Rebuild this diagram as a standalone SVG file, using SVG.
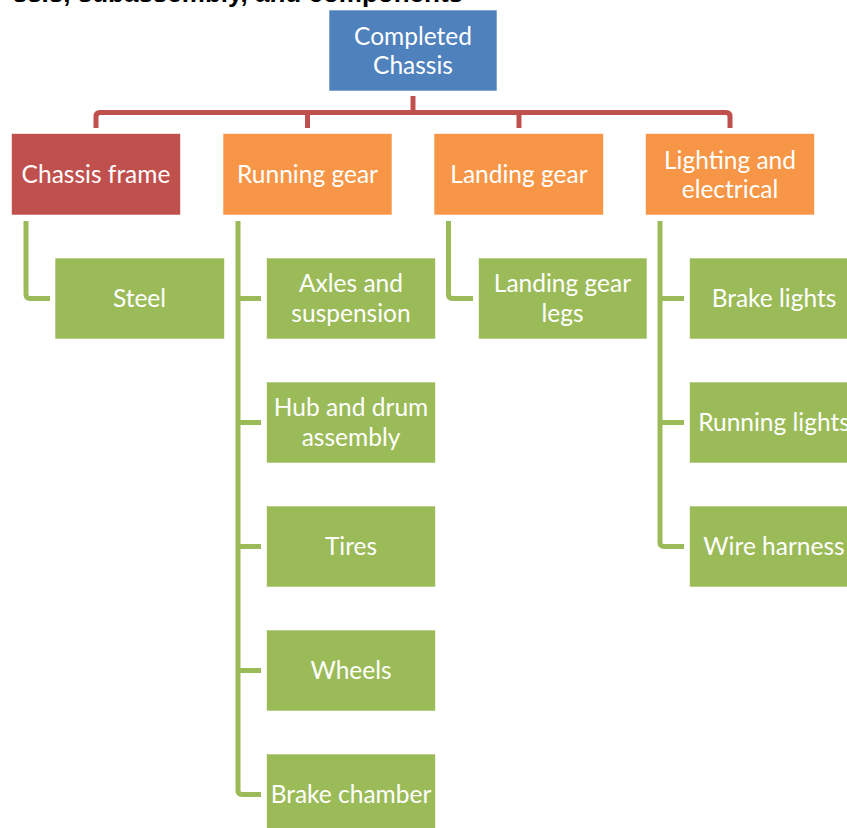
<svg xmlns="http://www.w3.org/2000/svg" width="847" height="828" viewBox="0 0 847 828">
<style>
.t{font-family:Lato,"Liberation Sans",sans-serif;font-size:24.5px;fill:#fff;text-anchor:middle}
.box{stroke:#fff;stroke-opacity:0.6;stroke-width:1}
.root{fill:#4F81BD}
.red{fill:#C0504D}
.org{fill:#F79646}
.grn{fill:#9BBB59}
.cr{fill:none;stroke:#C0504D;stroke-width:5;stroke-linejoin:round}
.cg{fill:none;stroke:#9BBB59;stroke-width:5;stroke-linejoin:round}
.title{font-family:"Liberation Sans",Arial,sans-serif;font-weight:bold;font-size:26px;fill:#000;text-anchor:end}
</style>
<rect width="847" height="828" fill="#fff"/>
<text class="title" x="463" y="2">ssis, subassembly, and components</text>
<g id="connectors">
<path class="cr" d="M413,96 V112.5"/>
<path class="cr" d="M96,128 V116.5 Q96,112.5 100,112.5 H726 Q730,112.5 730,116.5 V128"/>
<path class="cr" d="M307.5,112.5 V128"/>
<path class="cr" d="M519,112.5 V128"/>
<path class="cg" d="M26,221 V294.5 Q26,298.5 30,298.5 H50"/>
<path class="cg" d="M238,221 V790.5 Q238,794.5 242,794.5 H261"/>
<path class="cg" d="M238,298.5 H261 M238,422.5 H261 M238,546.5 H261 M238,670.5 H261"/>
<path class="cg" d="M448.5,221 V294.5 Q448.5,298.5 452.5,298.5 H473"/>
<path class="cg" d="M660,221 V542.5 Q660,546.5 664,546.5 H684"/>
<path class="cg" d="M660,298.5 H684 M660,422.5 H684"/>
</g>
<g id="completed-chassis"><rect class="box root" x="329" y="10" width="168" height="81"/><text class="t" x="413" y="45">Completed</text><text class="t" x="413" y="74">Chassis</text></g>
<g id="chassis-frame"><rect class="box red" x="11.5" y="133.5" width="169" height="81.5"/><text class="t" x="96" y="183">Chassis frame</text></g>
<g id="running-gear"><rect class="box org" x="223" y="133.5" width="169" height="81.5"/><text class="t" x="307.5" y="183">Running gear</text></g>
<g id="landing-gear"><rect class="box org" x="434" y="133.5" width="169.5" height="81.5"/><text class="t" x="519" y="183">Landing gear</text></g>
<g id="lighting"><rect class="box org" x="645.5" y="133.5" width="169" height="81.5"/><text class="t" x="730" y="169">Lighting and</text><text class="t" x="730" y="198">electrical</text></g>
<g id="steel"><rect class="box grn" x="55" y="258" width="169.5" height="81"/><text class="t" x="139.5" y="307">Steel</text></g>
<g id="axles"><rect class="box grn" x="266.5" y="258" width="169" height="81"/><text class="t" x="351" y="292">Axles and</text><text class="t" x="351" y="322">suspension</text></g>
<g id="hub"><rect class="box grn" x="266.5" y="382" width="169" height="81"/><text class="t" x="351" y="416">Hub and drum</text><text class="t" x="351" y="446">assembly</text></g>
<g id="tires"><rect class="box grn" x="266.5" y="506" width="169" height="81"/><text class="t" x="351" y="555">Tires</text></g>
<g id="wheels"><rect class="box grn" x="266.5" y="630" width="169" height="81"/><text class="t" x="351" y="679">Wheels</text></g>
<g id="brake-chamber"><rect class="box grn" x="266.5" y="754" width="169" height="81"/><text class="t" x="351" y="803">Brake chamber</text></g>
<g id="landing-gear-legs"><rect class="box grn" x="478.5" y="258" width="168.5" height="81"/><text class="t" x="562.5" y="292">Landing gear</text><text class="t" x="562.5" y="322">legs</text></g>
<g id="brake-lights"><rect class="box grn" x="689.5" y="258" width="169" height="81"/><text class="t" x="774" y="307">Brake lights</text></g>
<g id="running-lights"><rect class="box grn" x="689.5" y="382" width="169" height="81"/><text class="t" x="774" y="431">Running lights</text></g>
<g id="wire-harness"><rect class="box grn" x="689.5" y="506" width="169" height="81"/><text class="t" x="774" y="555">Wire harness</text></g>
</svg>
